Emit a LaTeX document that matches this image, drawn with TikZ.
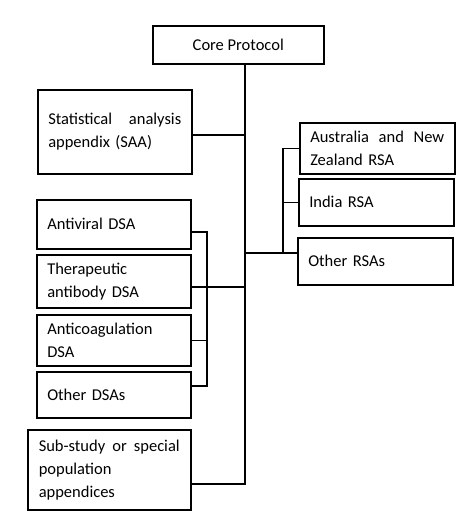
\documentclass[tikz,border=0pt]{standalone}
\usepackage{fontspec}
\setmainfont{Carlito}
\usepackage{tikz}
\usetikzlibrary{positioning}
\tikzstyle{corebox} = [rectangle, draw=black, line width=1.5pt, minimum width=171pt, minimum height=38pt, text centered, anchor=north west]
\tikzstyle{annex} = [rectangle, draw=black, line width=1.5pt, inner xsep=10.5pt, align=left, anchor=north west]
\tikzstyle{link} = [line width=1.5pt]
\newcommand{\annexfont}{\fontsize{16.5}{23}\selectfont\hyphenpenalty=10000\exhyphenpenalty=10000}

\begin{document}
\begin{tikzpicture}[x=1pt, y=-1pt, font=\annexfont]
      \useasboundingbox (0,0) rectangle (474,528);
      \node (core) [corebox] at (152,25) {Core Protocol};
      \node (saa) [annex, minimum width=154pt, minimum height=84pt, text width=133pt] at (37,89) {Statistical\hfill analysis\\appendix (SAA)};
      % regional appendices
      \node (aus) [annex, minimum width=155pt, minimum height=51pt, text width=134pt] at (299,122) {Australia\hfill and\hfill New\\Zealand RSA};
      \node (india) [annex, minimum width=155pt, minimum height=47pt, text width=134pt] at (298,178) {India RSA};
      \node (orsa) [annex, minimum width=155pt, minimum height=47pt, text width=134pt] at (297,237) {Other RSAs};
      % disease appendices
      \node (antiv) [annex, minimum width=154pt, minimum height=49pt, text width=133pt] at (36,199) {Antiviral DSA};
      \node (thera) [annex, minimum width=154pt, minimum height=53pt, text width=133pt] at (36,254) {Therapeutic\\antibody DSA};
      \node (antic) [annex, minimum width=154pt, minimum height=51pt, text width=133pt] at (36,314) {Anticoagulation\\DSA};
      \node (odsa) [annex, minimum width=154pt, minimum height=46pt, text width=133pt] at (36,371) {Other DSAs};
      \node (sub) [annex, minimum width=163pt, minimum height=80pt, text width=141pt] at (27,429) {Sub-study\hfill or\hfill special\\population\\appendices};
      % junctions
      \coordinate (saaj) at (245,135);
      \coordinate (rsaj) at (245,253);
      \coordinate (dsaj) at (245,287);
      \coordinate (subj) at (245,484);
      \coordinate (rbot) at (283,253);
      \coordinate (ltop) at (207,232);
      \coordinate (lbot) at (207,386);
      \draw [link] (core.south -| subj) -- (subj) -- (sub.east |- subj);
      \draw [link] (saaj) -- (saa.east |- saaj);
      \draw [link] (rsaj) -- (orsa.west |- rsaj);
      \draw [link] (rbot) |- (aus.west);
      \draw [link] (india.west -| rbot) -- (india.west);
      \draw [link] (dsaj) -- (thera.east |- dsaj);
      \draw [link] (antiv.east |- ltop) -| (lbot) -- (odsa.east |- lbot);
      \draw [link] (antic.east) -- (antic.east -| lbot);
    \end{tikzpicture}
\end{document}
